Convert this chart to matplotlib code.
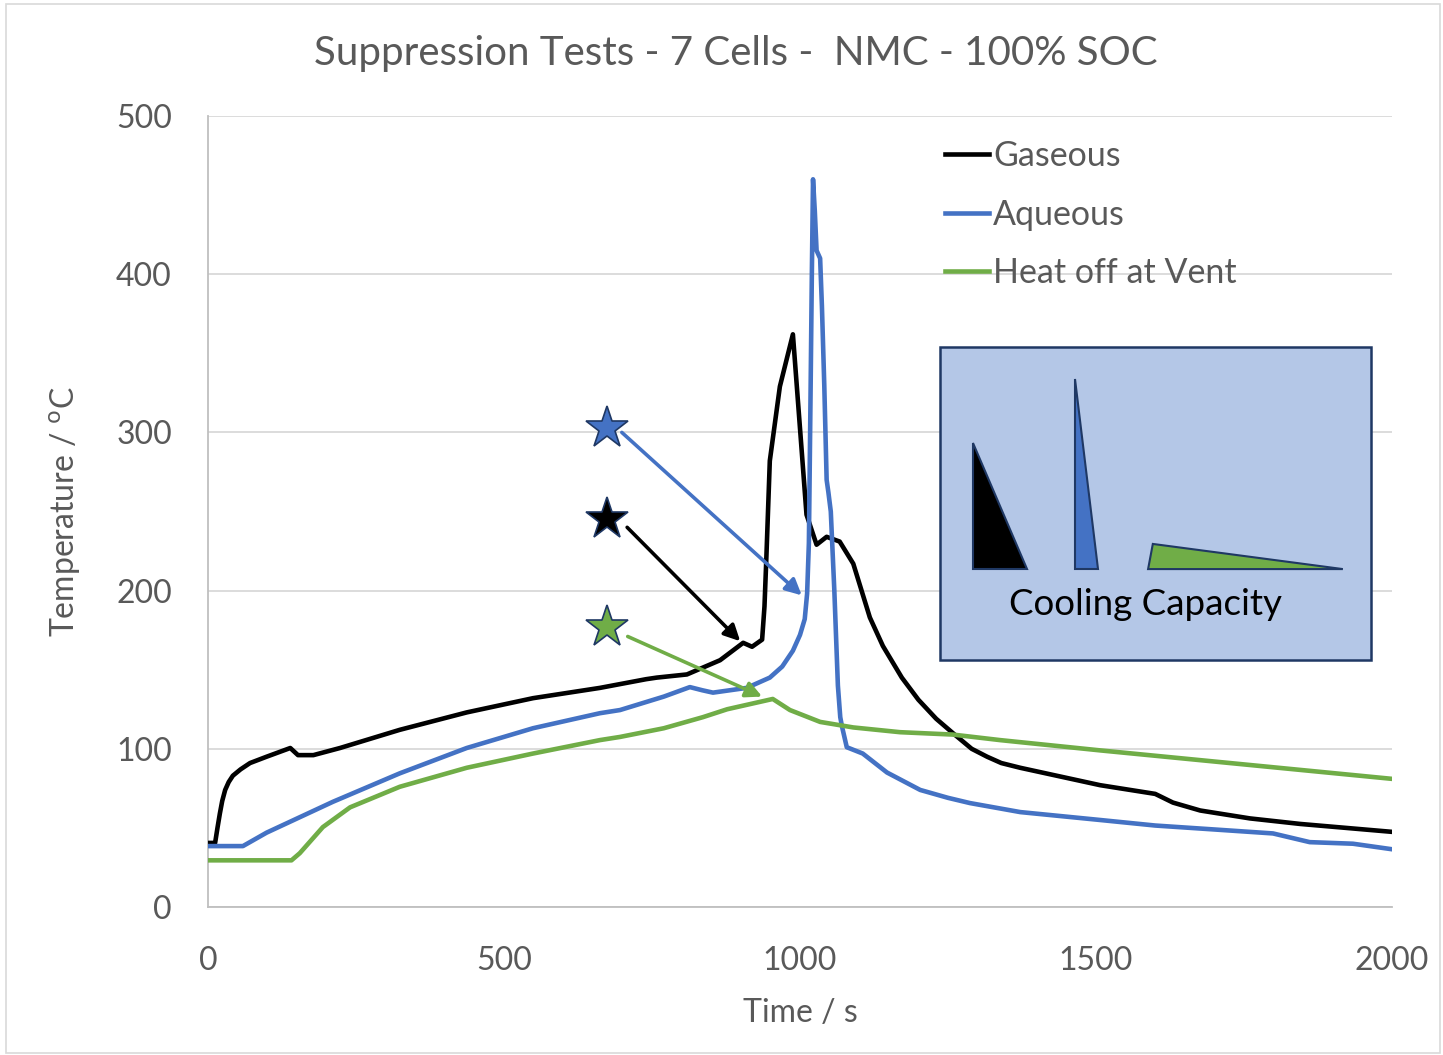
import matplotlib
matplotlib.use("Agg")
import matplotlib.pyplot as plt
from matplotlib.patches import Rectangle, Polygon

plt.rcParams['font.family'] = ['Lato', 'DejaVu Sans']

# Data
gas_t = [0, 12, 16, 20, 24, 29, 35, 42, 55, 71, 99, 139, 152, 178, 223, 324, 437, 549, 662,
         740, 758, 809, 865, 904, 919, 936, 940, 943, 949, 966, 988, 1011, 1028, 1045, 1067,
         1090, 1118, 1140, 1172, 1200, 1230, 1258, 1290, 1316, 1340, 1372, 1507, 1600, 1630,
         1676, 1760, 1845, 2000]
gas_T = [40.5, 40.5, 50, 59, 67, 74, 79, 83, 87, 91, 95, 100.5, 96, 96, 100.5, 112, 123, 132, 138.5,
         144, 145, 147, 156, 167, 164.5, 169, 190, 219, 282, 329, 362, 248, 229, 234, 231,
         217, 183, 165, 145, 131, 119, 110, 100, 95, 91, 88, 77, 71.5, 66,
         61, 56, 52.5, 47.5]

aq_t = [0, 59, 99, 211, 324, 437, 549, 662, 696, 770, 814, 835, 853, 910, 949, 970, 988, 1000,
        1008, 1012, 1015, 1018, 1020, 1022, 1025, 1028, 1034, 1037, 1041, 1045, 1048, 1052,
        1058, 1064, 1068, 1071, 1079, 1106, 1147, 1203, 1250, 1287, 1372, 1507, 1600, 1700,
        1799, 1861, 1934, 2000]
aq_T = [38.5, 38.5, 47, 66.5, 84.5, 100.5, 113, 122.5, 124.5, 133, 139, 137, 135.5, 138.5, 145, 152, 162, 172,
        182, 198, 230, 330, 400, 460, 440, 415, 410, 380, 330, 270, 262, 250,
        200, 140, 120, 114, 101, 97, 85, 74, 69, 65.7, 60, 55, 51.5, 49,
        46.5, 41, 40, 36.5]

vent_t = [0, 141, 155, 194, 240, 324, 437, 549, 662, 696, 770, 836, 877, 954, 983, 1034,
          1090, 1169, 1258, 1338, 1507, 2000]
vent_T = [29.5, 29.5, 34, 50.5, 63, 76, 88, 97, 105.5, 107.5, 113, 120, 125, 131.5, 124.5, 117,
          113.5, 110.5, 109, 105.5, 99, 81]

series_names = ['Gaseous', 'Aqueous', 'Heat off at Vent']
colors = ['#000000', '#4472C4', '#70AD47']

# star markers and arrows (start -> end)
star_xy = [(674, 303), (674, 245), (674, 177)]
arrow_start = [(699, 300), (708, 240), (709, 171)]
arrow_end = [(1003, 197), (899, 168), (936, 133)]
star_colors = ['#4472C4', '#000000', '#70AD47']

grey = '#595959'

fig = plt.figure(figsize=(14.43, 10.55), dpi=100)
ax = fig.add_axes([208/1443, 148/1055, 1184/1443, 791/1055])

for t, T, name, c in zip([gas_t, aq_t, vent_t], [gas_T, aq_T, vent_T], series_names, colors):
    ax.plot(t, T, color=c, lw=3.3, label=name, solid_joinstyle='round', zorder=3)

for (sx, sy), (ax0, ay0), (ax1, ay1), c in zip(star_xy, arrow_start, arrow_end, star_colors):
    ax.plot(sx, sy, marker='*', markersize=32, mfc=c, mec='#1F3864', mew=1.2, zorder=5)
    ax.annotate('', xy=(ax1, ay1), xytext=(ax0, ay0),
                arrowprops=dict(arrowstyle='-|>', color=c, lw=2.6, mutation_scale=24,
                                shrinkA=0, shrinkB=0), zorder=5)

ax.set_xlim(0, 2000)
ax.set_ylim(0, 500)
ax.set_xticks([0, 500, 1000, 1500, 2000])
ax.set_yticks([0, 100, 200, 300, 400, 500])
ax.grid(axis='y', color='#D9D9D9', lw=1.3, zorder=0)
ax.set_axisbelow(True)
for s in ['top', 'right']:
    ax.spines[s].set_visible(False)
for s in ['left', 'bottom']:
    ax.spines[s].set_color('#BFBFBF')
    ax.spines[s].set_linewidth(1.3)
ax.tick_params(axis='both', length=0, labelsize=23, labelcolor=grey)
ax.tick_params(axis='x', pad=28)
ax.tick_params(axis='y', pad=26)

ax.set_xlabel('Time / s', fontsize=23, color=grey, labelpad=16)
ax.set_ylabel(r'Temperature / $^{\rm o}$C', fontsize=23, color=grey, labelpad=24)
fig.suptitle('Suppression Tests - 7 Cells -  NMC - 100% SOC', fontsize=29, color=grey,
             x=736/1443, y=1 - 54/1055, va='center')

leg = ax.legend(loc='upper left', bbox_to_anchor=(945/1443, 1 - 140/1055),
                bbox_transform=fig.transFigure, frameon=False, fontsize=24.5,
                handlelength=1.3, handletextpad=0.12, labelspacing=0.78,
                borderpad=0, borderaxespad=0)
for txt in leg.get_texts():
    txt.set_color(grey)

# cooling capacity inset
ax.add_patch(Rectangle((1236, 156), 729, 198, facecolor='#B4C7E7', edgecolor='#1F3864',
                       lw=1.8, zorder=4))
tri_pts = [
    [(1292, 293), (1292, 213.6), (1383, 213.6)],
    [(1464, 334), (1464, 213.6), (1503, 213.6)],
    [(1588, 213.6), (1596, 229.5), (1917, 213.6)],
]
for pts, c in zip(tri_pts, colors):
    ax.add_patch(Polygon(pts, closed=True, facecolor=c, edgecolor='#1F3864', lw=1.5, zorder=5))
ax.text(1583, 191, 'Cooling Capacity', fontsize=26.5, color='black', ha='center', va='center',
        zorder=6)

fig.patches.append(Rectangle((0.004, 0.002), 0.994, 0.994, transform=fig.transFigure,
                             fill=False, edgecolor='#D9D9D9', lw=1.2))

fig.savefig('out.png', dpi=100)
